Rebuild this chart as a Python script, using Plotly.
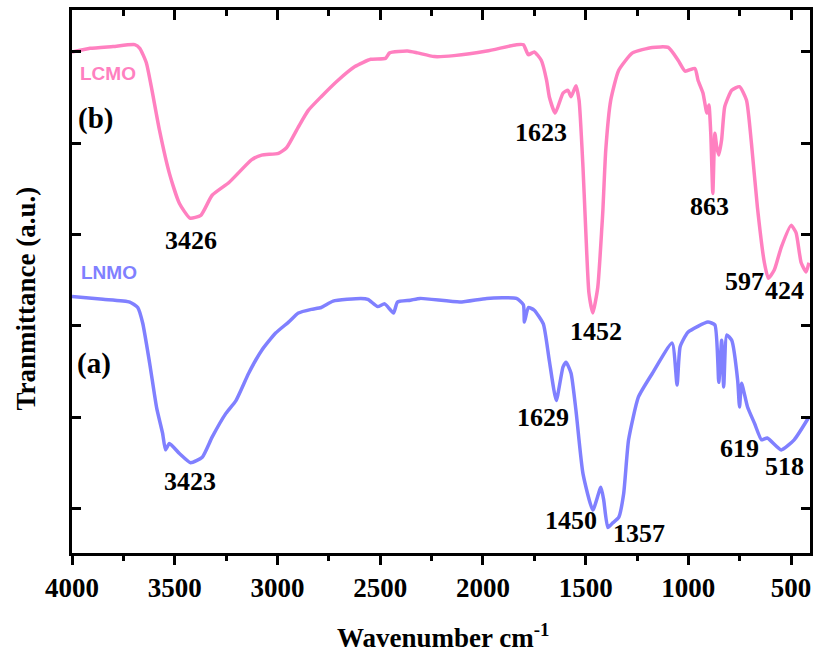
import plotly.graph_objects as go

# LCMO (b) spectrum
lcmo_wn = [4000, 3912, 3800, 3695, 3670, 3638, 3614, 3574, 3526, 3477, 3426, 3373, 3318, 3236, 3125,
           3077, 2995, 2956, 2898, 2850, 2787, 2705, 2623, 2546, 2474, 2454, 2367, 2319, 2237, 2141,
           1981, 1837, 1803, 1779, 1750, 1716, 1690, 1677, 1648, 1610, 1586, 1571, 1547, 1532, 1513,
           1499, 1484, 1465, 1441, 1421, 1416, 1402, 1378, 1339, 1272, 1175, 1098, 1050, 1016, 968,
           953, 929, 910, 900, 891, 881, 871, 862, 852, 838, 823, 789, 751, 717, 693, 664, 630, 611,
           582, 548, 500, 476, 451, 427, 413]
lcmo_t = [5.00, 5.04, 5.06, 5.08, 5.04, 4.88, 4.62, 4.14, 3.67, 3.34, 3.18, 3.21, 3.43, 3.57, 3.82,
          3.87, 3.89, 3.95, 4.18, 4.36, 4.51, 4.69, 4.84, 4.92, 4.93, 4.99, 5.01, 4.99, 4.95, 4.96,
          5.01, 5.08, 5.08, 4.97, 5.00, 4.91, 4.69, 4.51, 4.33, 4.55, 4.58, 4.51, 4.63, 4.47, 3.74,
          3.02, 2.36, 2.14, 2.42, 3.08, 3.27, 3.93, 4.47, 4.80, 4.99, 5.05, 5.05, 4.91, 4.79, 4.82,
          4.69, 4.55, 4.33, 4.42, 4.11, 3.45, 4.11, 3.96, 3.87, 4.04, 4.40, 4.58, 4.62, 4.47, 4.00,
          3.30, 2.69, 2.52, 2.61, 2.86, 3.10, 3.02, 2.69, 2.59, 2.69]

# LNMO (a) spectrum
lnmo_wn = [4000, 3849, 3719, 3680, 3656, 3622, 3588, 3559, 3545, 3526, 3477, 3423, 3366, 3318, 3251,
           3202, 3140, 3077, 3009, 2946, 2898, 2835, 2787, 2729, 2594, 2560, 2512, 2478, 2435, 2416,
           2353, 2305, 2112, 1981, 1837, 1803, 1798, 1779, 1750, 1706, 1677, 1643, 1610, 1595, 1571,
           1547, 1513, 1465, 1426, 1412, 1392, 1368, 1339, 1315, 1291, 1243, 1175, 1079, 1055, 1040,
           1002, 905, 871, 852, 838, 828, 813, 789, 760, 751, 741, 712, 678, 644, 616, 548, 485, 413]
lnmo_t = [2.32, 2.29, 2.26, 2.20, 2.03, 1.59, 1.10, 0.82, 0.64, 0.71, 0.60, 0.50, 0.56, 0.78, 1.04,
          1.18, 1.48, 1.73, 1.92, 2.04, 2.14, 2.18, 2.20, 2.27, 2.30, 2.29, 2.21, 2.24, 2.14, 2.26,
          2.28, 2.30, 2.26, 2.30, 2.30, 2.23, 2.04, 2.20, 2.17, 2.02, 1.62, 1.18, 1.55, 1.60, 1.48,
          1.07, 0.38, -0.02, 0.23, 0.09, -0.21, -0.16, -0.10, 0.16, 0.75, 1.22, 1.48, 1.81, 1.35, 1.77,
          1.93, 2.04, 2.01, 1.38, 1.84, 1.33, 1.90, 1.84, 1.40, 1.11, 1.37, 1.11, 0.93, 0.75, 0.77,
          0.64, 0.75, 1.00]

# peak labels: (text, wavenumber position, transmittance position)
peak_text = ["3426", "1623", "1452", "863", "597", "424",
             "3423", "1629", "1450", "1357", "619", "518"]
peak_x = [3422, 1716, 1450, 896, 727, 534,
          3427, 1710, 1571, 1240, 751, 534]
peak_y = [2.93, 4.12, 1.94, 3.31, 2.48, 2.39,
          0.29, 1.00, -0.13, -0.28, 0.66, 0.46]

x_ticks = [4000, 3500, 3000, 2500, 2000, 1500, 1000, 500]
y_ticks = [0, 1, 2, 3, 4, 5]

PINK = "rgb(255,128,192)"
BLUE = "rgb(128,128,255)"
SERIF = "Liberation Serif"

fig = go.Figure()
fig.add_trace(go.Scatter(x=lcmo_wn, y=lcmo_t, mode="lines",
                         line=dict(color=PINK, width=3.5, shape="spline", smoothing=0.5),
                         name="LCMO", showlegend=False))
fig.add_trace(go.Scatter(x=lnmo_wn, y=lnmo_t, mode="lines",
                         line=dict(color=BLUE, width=3.5, shape="spline", smoothing=0.5),
                         name="LNMO", showlegend=False))
# invisible trace to hold the top axis
fig.add_trace(go.Scatter(x=[4000], y=[0], xaxis="x2", mode="markers",
                         marker=dict(opacity=0), showlegend=False, hoverinfo="skip"))

for t, x, y in zip(peak_text, peak_x, peak_y):
    fig.add_annotation(x=x, y=y, text=t, showarrow=False,
                       font=dict(family=SERIF, size=26, color="black", weight="bold"))


def py(px):
    return (553 - px) / 543


def px_x(px):
    return (px - 71.7) / 741.3


fig.add_annotation(xref="paper", yref="paper", x=px_x(78), y=py(73), text="LCMO",
                   showarrow=False, xanchor="left", yanchor="middle",
                   font=dict(family="Liberation Sans", size=19, color=PINK, weight="bold"))
fig.add_annotation(xref="paper", yref="paper", x=px_x(79), y=py(272), text="LNMO",
                   showarrow=False, xanchor="left", yanchor="middle",
                   font=dict(family="Liberation Sans", size=19, color=BLUE, weight="bold"))
fig.add_annotation(xref="paper", yref="paper", x=px_x(76), y=py(118), text="(b)",
                   showarrow=False, xanchor="left", yanchor="middle",
                   font=dict(family=SERIF, size=29, color="black", weight="bold"))
fig.add_annotation(xref="paper", yref="paper", x=px_x(75), y=py(363), text="(a)",
                   showarrow=False, xanchor="left", yanchor="middle",
                   font=dict(family=SERIF, size=29, color="black", weight="bold"))

# axis titles
fig.add_annotation(xref="paper", yref="paper", x=px_x(445), y=py(636),
                   text="Wavenumber cm<sup>-1</sup>", showarrow=False,
                   xanchor="center", yanchor="middle",
                   font=dict(family=SERIF, size=27, color="black", weight="bold"))
fig.add_annotation(xref="paper", yref="paper", x=px_x(25), y=py(299),
                   text="Tranmittance (a.u.)", showarrow=False, textangle=-90,
                   xanchor="center", yanchor="middle",
                   font=dict(family=SERIF, size=27, color="black", weight="bold"))

axis_common = dict(range=[4000, 408], showgrid=False, zeroline=False, showline=True,
                   linecolor="black", linewidth=3)

fig.update_layout(
    width=815, height=657,
    margin=dict(l=72, r=2, t=10, b=104),
    paper_bgcolor="white", plot_bgcolor="white",
    xaxis=dict(**axis_common, tickvals=x_ticks, ticktext=[str(v) for v in x_ticks],
               ticks="outside", ticklen=9, tickwidth=3, tickcolor="black", mirror=True,
               tickfont=dict(family=SERIF, size=27, color="black", weight="bold"),
               minor=dict(dtick=250, tick0=0, ticks="outside", ticklen=5, tickwidth=3,
                          tickcolor="black")),
    xaxis2=dict(**axis_common, overlaying="x", side="top", tickvals=x_ticks,
                showticklabels=False, ticks="inside", ticklen=10, tickwidth=3, tickcolor="black",
                minor=dict(dtick=250, tick0=0, ticks="inside", ticklen=6, tickwidth=3,
                           tickcolor="black")),
    yaxis=dict(range=[-0.49, 5.46], showgrid=False, zeroline=False, showline=True,
               linecolor="black", linewidth=3, mirror="ticks", tickvals=y_ticks,
               showticklabels=False, ticks="inside", ticklen=9, tickwidth=3, tickcolor="black"),
)

fig.write_html("out.html")
